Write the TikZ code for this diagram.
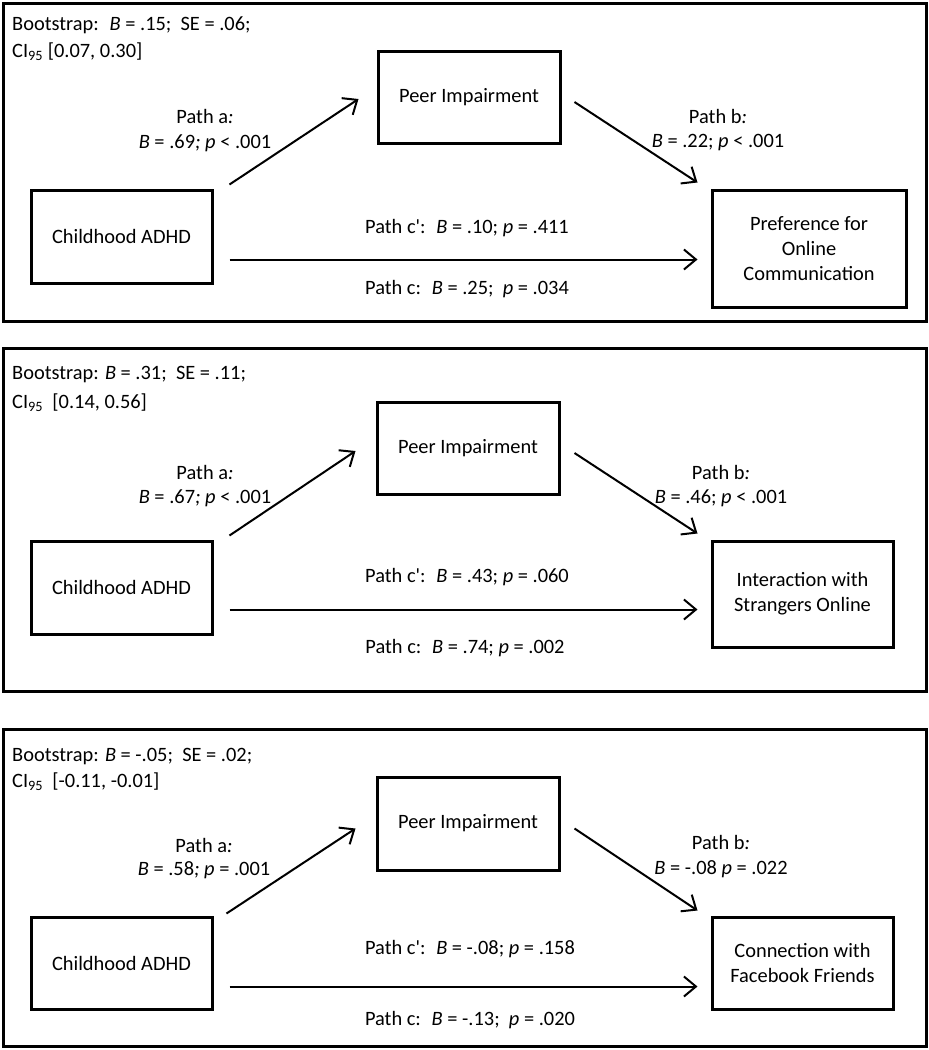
\documentclass[tikz,border=0pt]{standalone}
\usepackage{fontspec}
\setmainfont{Carlito}
\usepackage{tikz}
\usetikzlibrary{arrows.meta}

\begin{document}
\begin{tikzpicture}[x=1pt,
            y=-1pt,
            >={Straight Barb[length=12pt,width=20pt]},
            font=\fontsize{20.4}{25}\selectfont,
            box/.style={draw, line width=3pt, inner sep=0pt, align=center},
            txt/.style={inner sep=0pt},
            note/.style={inner sep=0pt, anchor=west},
            link/.style={->, line width=2pt},
            frame/.style={line width=3pt}]

        \useasboundingbox (0,0) rectangle (929,1050);

        % panel 1
        \draw[frame] (3,3) rectangle (926,321);
        \node[note]                                          (boot1) at (12,25)     {Bootstrap:~ \textit{B} = .15;~ SE = .06;};
        \node[note]                                          (ci1)   at (12,52)     {CI\textsubscript{95} [0.07, 0.30]};
        \node[box,minimum width=181pt,minimum height=93pt]   (adhd1) at (121.5,236.5) {Childhood ADHD};
        \node[box,minimum width=182pt,minimum height=92pt]   (peer1) at (469,97)    {Peer Impairment};
        \node[box,minimum width=194pt,minimum height=117pt]  (out1)  at (809,248.5) {Preference for\\Online\\Communication};
        \node[txt] (pa1)  at (205,116) {Path a\textit{:}};
        \node[txt] (ba1)  at (205,143) {\textit{B} = .69\textit{; p} < .001};
        \node[txt] (pb1)  at (718,116) {Path b\textit{:}};
        \node[txt] (bb1)  at (718,143) {\textit{B} = .22; \textit{p} < .001};
        \node[txt] (pc1)  at (467,228) {Path c\textquotesingle:~ \textit{B} = .10; \textit{p} = .411};
        \node[txt] (pt1)  at (467,289) {Path c:~ \textit{B} = .25;~ \textit{p} = .034};

        \draw[link] ([xshift=16pt,yshift=4pt]adhd1.north east) -- ([xshift=-18pt,yshift=-2pt]peer1.west);
        \draw[link] ([xshift=13pt,yshift=-5pt]peer1.east) -- ([xshift=-13pt,yshift=6pt]out1.north west);
        \coordinate (c1) at ([xshift=16pt,yshift=25pt]adhd1.south east);
        \draw[link,shorten >=13pt] (c1) -- (c1 -| out1.west);

        % panel 2
        \draw[frame] (3,348) rectangle (926,691);
        \node[note]                                          (boot2) at (12,375)    {Bootstrap: \textit{B} = .31;~ SE = .11;};
        \node[note]                                          (ci2)   at (12,403)    {CI\textsubscript{95}~ [0.14, 0.56]};
        \node[box,minimum width=181pt,minimum height=93pt]   (adhd2) at (121.5,587.5) {Childhood ADHD};
        \node[box,minimum width=182pt,minimum height=92pt]   (peer2) at (468,448)   {Peer Impairment};
        \node[box,minimum width=181pt,minimum height=106pt]  (out2)  at (802.5,594) {Interaction with\\Strangers Online};
        \node[txt] (pa2)  at (205,472) {Path a\textit{:}};
        \node[txt] (ba2)  at (205,498) {\textit{B} = .67\textit{; p} < .001};
        \node[txt] (pb2)  at (721,472) {Path b\textit{:}};
        \node[txt] (bb2)  at (721,498) {\textit{B} = .46; \textit{p} < .001};
        \node[txt] (pc2)  at (467,577) {Path c\textquotesingle:~ \textit{B} = .43; \textit{p} = .060};
        \node[txt] (pt2)  at (465,648) {Path c:~ \textit{B} = .74; \textit{p} = .002};

        \draw[link] ([xshift=16pt,yshift=4pt]adhd2.north east) -- ([xshift=-20pt,yshift=-3pt]peer2.west);
        \draw[link] ([xshift=14pt,yshift=-5pt]peer2.east) -- ([xshift=-13pt,yshift=6pt]out2.north west);
        \coordinate (c2) at ([xshift=16pt,yshift=26pt]adhd2.south east);
        \draw[link,shorten >=13pt] (c2) -- (c2 -| out2.west);

        % panel 3
        \draw[frame] (3,729) rectangle (926,1046);
        \node[note]                                          (boot3) at (12,757)    {Bootstrap: \textit{B} = -.05;~ SE = .02;};
        \node[note]                                          (ci3)   at (12,782)    {CI\textsubscript{95}~ [-0.11, -0.01]};
        \node[box,minimum width=181pt,minimum height=92pt]   (adhd3) at (121.5,963) {Childhood ADHD};
        \node[box,minimum width=182pt,minimum height=93pt]   (peer3) at (468,823.5) {Peer Impairment};
        \node[box,minimum width=181pt,minimum height=92pt]   (out3)  at (802.5,963) {Connection with\\Facebook Friends};
        \node[txt] (pa3)  at (204,845) {Path a\textit{:}};
        \node[txt] (ba3)  at (204,870) {\textit{B} = .58\textit{; p} = .001};
        \node[txt] (pb3)  at (721,842) {Path b\textit{:}};
        \node[txt] (bb3)  at (721,869) {\textit{B} = -.08 \textit{p} = .022};
        \node[txt] (pc3)  at (470,949) {Path c\textquotesingle:~ \textit{B} = -.08; \textit{p} = .158};
        \node[txt] (pt3)  at (470,1020) {Path c:~ \textit{B} = -.13;~ \textit{p} = .020};

        \draw[link] ([xshift=13pt,yshift=2pt]adhd3.north east) -- ([xshift=-20pt,yshift=-5pt]peer3.west);
        \draw[link] ([xshift=14pt,yshift=-5pt]peer3.east) -- ([xshift=-13pt,yshift=5pt]out3.north west);
        \coordinate (c3) at ([xshift=16pt,yshift=24pt]adhd3.south east);
        \draw[link,shorten >=13pt] (c3) -- (c3 -| out3.west);

    \end{tikzpicture}
\end{document}
